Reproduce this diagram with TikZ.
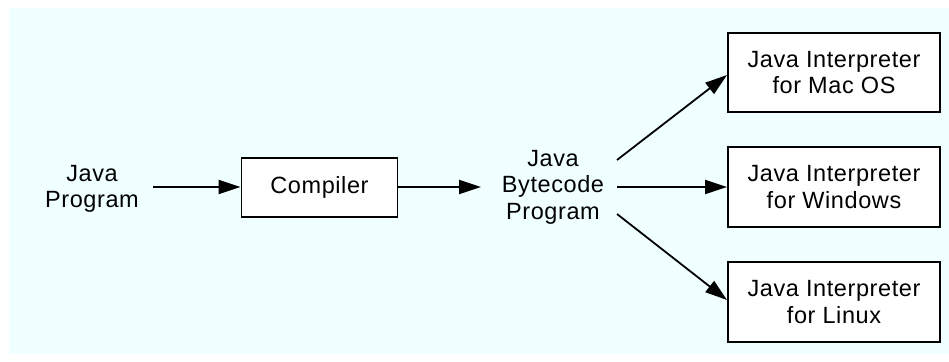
\documentclass[tikz,border=0pt]{standalone}
\usepackage{fontspec}
\setmainfont{Liberation Sans}[LetterSpace=2.5]
\usetikzlibrary{arrows.meta}
\definecolor{bgcyan}{HTML}{F0FFFF}
\begin{document}
\begin{tikzpicture}[x=1pt,y=-1pt,
  box/.style={draw=black,line width=1.8pt,fill=white,inner sep=0pt,font=\fontsize{23.5}{26.5}\selectfont,align=center},
  lbl/.style={inner sep=0pt,font=\fontsize{23.5}{26.5}\selectfont,align=center},
  conn/.style={line width=1.8pt,-{Triangle[length=22pt,width=14pt]}}]
\useasboundingbox (0,0) rectangle (949,361);
\fill[bgcyan] (9,8) rectangle (949,354);
\node[lbl] (jp) at (92,189) {Java\\Program};
\node[box,minimum width=156pt,minimum height=59pt] (comp) at (319.5,187.5) {Compiler};
\node[lbl] (bc) at (553,187) {Java\\Bytecode\\Program};
\node[box,minimum width=212pt,minimum height=79pt] (mac) at (834,72.5) {Java Interpreter\\for Mac OS};
\node[box,minimum width=212pt,minimum height=80pt] (win) at (834,187) {Java Interpreter\\for Windows};
\node[box,minimum width=212pt,minimum height=80pt] (lin) at (834,302) {Java Interpreter\\for Linux};
\coordinate (a0) at (153,187);
\draw[conn] (a0) -- (comp.west |- a0);
\coordinate (b0) at (398,187);
\coordinate (b1) at (481,187);
\draw[conn] (comp.east |- b0) -- (b1);
\coordinate (u0) at (617,160);
\coordinate (u1) at (727,75);
\draw[conn] (u0) -- (u1);
\coordinate (m0) at (617,187);
\draw[conn] (m0) -- (win.west |- m0);
\coordinate (d0) at (617,214);
\coordinate (d1) at (727,300);
\draw[conn] (d0) -- (d1);
\end{tikzpicture}
\end{document}
